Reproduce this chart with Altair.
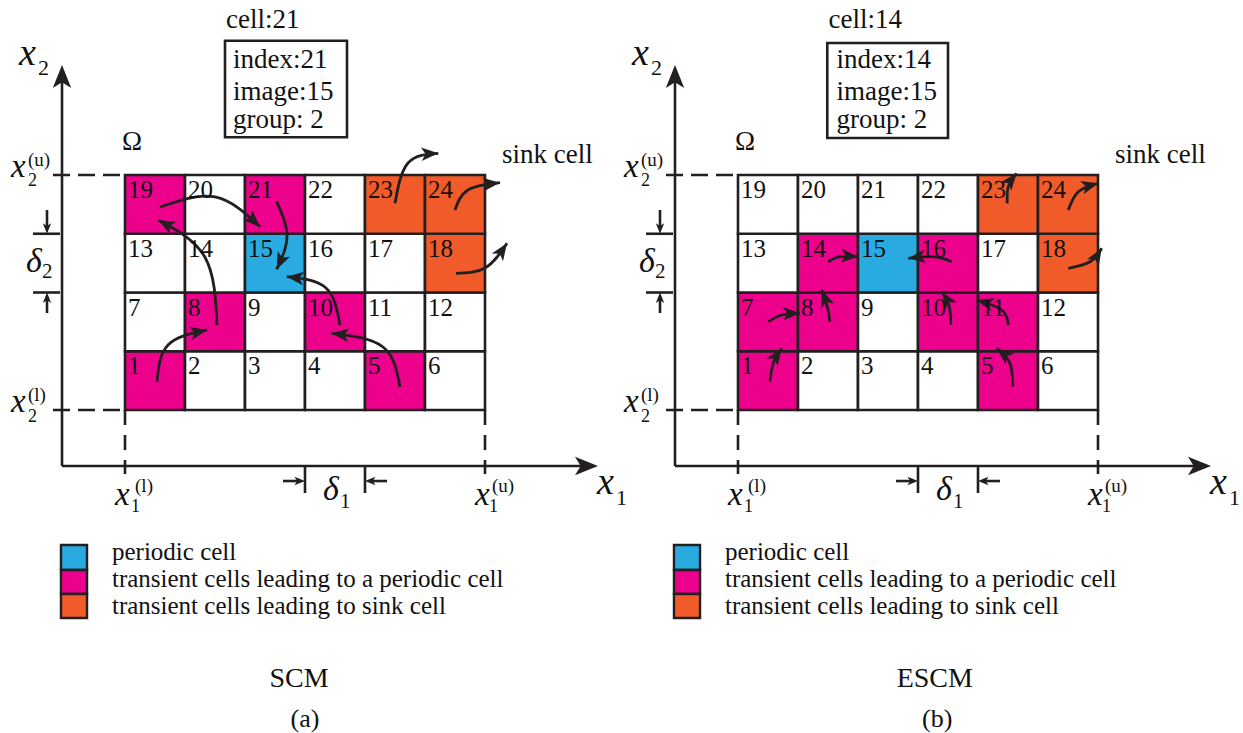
import math
import altair as alt
import pandas as pd

# ------------------------------------------------------------------ data
N_COLS = 6
N_ROWS = 4
CELL_IDS = list(range(1, N_COLS * N_ROWS + 1))

PERIODIC_A = [15]
TO_PERIODIC_A = [1, 5, 8, 10, 19, 21]
TO_SINK_A = [18, 23, 24]

PERIODIC_B = [15]
TO_PERIODIC_B = [1, 5, 7, 8, 10, 11, 14, 16]
TO_SINK_B = [18, 23, 24]

INFO_A = ["cell:21", "index:21", "image:15", "group: 2"]
INFO_B = ["cell:14", "index:14", "image:15", "group: 2"]
CAPTIONS_A = ["SCM", "(a)"]
CAPTIONS_B = ["ESCM", "(b)"]

LEGEND_KINDS = ["periodic", "to_periodic", "to_sink"]
LEGEND_LABELS = [
    "periodic cell",
    "transient cells leading to a periodic cell",
    "transient cells leading to sink cell",
]

# cell-to-image arrows, in grid units (start, middle, tip)
ARROWS_A = [
    [(0.533, 0.477), (0.717, 1.106), (1.367, 1.362)],
    [(1.533, 1.447), (1.333, 2.600), (0.555, 3.234)],
    [(0.583, 3.455), (1.500, 3.626), (2.250, 3.119)],
    [(2.528, 3.546), (2.700, 2.962), (2.528, 2.395)],
    [(3.583, 1.447), (3.350, 2.077), (2.695, 2.269)],
    [(4.583, 0.392), (4.300, 1.072), (3.445, 1.305)],
    [(4.500, 3.520), (4.717, 4.204), (5.222, 4.369)],
    [(5.500, 3.404), (5.717, 3.745), (6.250, 3.869)],
    [(5.517, 2.327), (6.000, 2.417), (6.367, 2.837)],
]
ARROWS_B = [
    [(0.533, 0.482), (0.588, 0.795), (0.728, 1.050)],
    [(0.505, 1.503), (0.728, 1.617), (1.033, 1.646)],
    [(1.533, 1.503), (1.488, 1.758), (1.395, 2.043)],
    [(1.505, 2.524), (1.700, 2.609), (2.005, 2.609)],
    [(3.562, 2.524), (3.255, 2.609), (2.838, 2.582)],
    [(3.545, 1.447), (3.522, 1.758), (3.395, 2.014)],
    [(4.505, 1.447), (4.395, 1.702), (3.978, 1.872)],
    [(4.578, 0.397), (4.533, 0.795), (4.312, 1.050)],
    [(4.488, 3.517), (4.505, 3.801), (4.645, 4.028)],
    [(5.505, 3.404), (5.672, 3.716), (6.005, 3.858)],
    [(5.505, 2.412), (5.867, 2.524), (6.062, 2.752)],
]

# info box outline (u0, u1, v0, v1) and its text anchors
BOX_A = (1.667, 3.700, 4.642, 6.286)
BOX_B = (1.488, 3.500, 4.630, 6.247)
INFO_TITLE_U = {"a": 1.683, "b": 1.508}
INFO_TEXT_U = {"a": 1.800, "b": 1.642}
INFO_V = [6.502, 5.821, 5.277, 4.800]

COLORS = {"periodic": "#29ABE2", "to_periodic": "#EC008C",
          "to_sink": "#F15A29", "none": "#FFFFFF"}
INK = "#231F20"
FONT = "Liberation Serif"
ARROW_PATH = "M0,0L0.8,2L0,1.5L-0.8,2Z"

# ------------------------------------------------------------------ scales
PANEL_W, PANEL_H = 613, 733
X_DOMAIN = [-125 / 60, (PANEL_W - 125) / 60]
Y_DOMAIN = [(410 - PANEL_H) / 58.75, 410 / 58.75]
PX_U = PANEL_W / (X_DOMAIN[1] - X_DOMAIN[0])
PX_V = PANEL_H / (Y_DOMAIN[1] - Y_DOMAIN[0])

XS = alt.Scale(domain=X_DOMAIN, nice=False, zero=False)
YS = alt.Scale(domain=Y_DOMAIN, nice=False, zero=False)


def X(f):
    return alt.X(f, type="quantitative", scale=XS, axis=None)


def Y(f):
    return alt.Y(f, type="quantitative", scale=YS, axis=None)


def X2(f):
    return alt.X2(f)


def heading(du, dv):
    return math.degrees(math.atan2(du * PX_U, dv * PX_V)) % 360


def text_layer(df, align="left", italic=False):
    kw = dict(align=align, baseline="alphabetic", font=FONT, color="#111111")
    if italic:
        kw["fontStyle"] = "italic"
    return alt.Chart(df).mark_text(**kw).encode(
        x=X("u"), y=Y("v"), text="t:N", size=alt.Size("fs:Q", scale=None))


def panel(key, periodic, to_periodic, to_sink, info, box, captions, arrows):
    # cells
    rows = []
    for n in CELL_IDS:
        c, r = (n - 1) % N_COLS, (n - 1) // N_COLS
        kind = ("periodic" if n in periodic else "to_periodic" if n in to_periodic
                else "to_sink" if n in to_sink else "none")
        rows.append(dict(n=str(n), u0=c, u1=c + 1, v0=r, v1=r + 1, fill=COLORS[kind]))
    cells = pd.DataFrame(rows)

    cell_rects = alt.Chart(cells).mark_rect(stroke=INK, strokeWidth=2.6).encode(
        x=X("u0"), x2=X2("u1"), y=Y("v0"), y2=alt.Y2("v1"),
        fill=alt.Fill("fill:N", scale=None))
    cell_nums = alt.Chart(cells).mark_text(
        align="left", baseline="alphabetic", dx=3, dy=23, font=FONT,
        fontSize=25, color="#111111").encode(x=X("u0"), y=Y("v1"), text="n:N")

    # info box
    boxdf = pd.DataFrame([dict(u0=box[0], u1=box[1], v0=box[2], v1=box[3])])
    box_rect = alt.Chart(boxdf).mark_rect(fill="#FFFFFF", stroke=INK, strokeWidth=2.6).encode(
        x=X("u0"), x2=X2("u1"), y=Y("v0"), y2=alt.Y2("v1"))

    # legend swatches
    sw_v = [-2.298, -2.723, -3.132, -3.540]
    legdf = pd.DataFrame([dict(u0=-1.067, u1=-0.633, v0=sw_v[i + 1], v1=sw_v[i],
                               fill=COLORS[k]) for i, k in enumerate(LEGEND_KINDS)])
    leg_rects = alt.Chart(legdf).mark_rect(stroke=INK, strokeWidth=2.4).encode(
        x=X("u0"), x2=X2("u1"), y=Y("v0"), y2=alt.Y2("v1"),
        fill=alt.Fill("fill:N", scale=None))

    # solid lines: axes, delta ticks, delta shafts
    solid = pd.DataFrame([
        dict(u0=-1.05, u1=-1.05, v0=-0.953, v1=5.60),
        dict(u0=-1.05, u1=7.62, v0=-0.953, v1=-0.953),
        dict(u0=-1.533, u1=-1.083, v0=3.0, v1=3.0),
        dict(u0=-1.533, u1=-1.083, v0=2.0, v1=2.0),
        dict(u0=-1.30, u1=-1.30, v0=3.404, v1=3.10),
        dict(u0=-1.30, u1=-1.30, v0=1.651, v1=1.90),
        dict(u0=3.0, u1=3.0, v0=-0.953, v1=-1.413),
        dict(u0=4.0, u1=4.0, v0=-0.953, v1=-1.413),
        dict(u0=2.633, u1=2.92, v0=-1.209, v1=-1.209),
        dict(u0=4.367, u1=4.08, v0=-1.209, v1=-1.209),
    ])
    solid_rules = alt.Chart(solid).mark_rule(color=INK, strokeWidth=2.6).encode(
        x=X("u0"), x2=X2("u1"), y=Y("v0"), y2=alt.Y2("v1"))

    dashed_h = pd.DataFrame([
        dict(u0=-1.2, u1=0.0, v0=4.0, v1=4.0),
        dict(u0=-1.2, u1=0.0, v0=0.0, v1=0.0),
    ])
    dashed_v = pd.DataFrame([
        dict(u0=0.0, u1=0.0, v0=0.0, v1=-1.089),
        dict(u0=6.0, u1=6.0, v0=0.0, v1=-1.089),
    ])
    dash_h = alt.Chart(dashed_h).mark_rule(color=INK, strokeWidth=2.6, strokeDash=[17, 8]).encode(
        x=X("u0"), x2=X2("u1"), y=Y("v0"), y2=alt.Y2("v1"))
    dash_v = alt.Chart(dashed_v).mark_rule(color=INK, strokeWidth=2.6, strokeDash=[15, 10]).encode(
        x=X("u0"), x2=X2("u1"), y=Y("v0"), y2=alt.Y2("v1"))

    # curved arrows
    pts, heads = [], []
    for i, arr in enumerate(arrows):
        for k, (u, v) in enumerate(arr):
            pts.append(dict(id=i, k=k, u=u, v=v))
        p0, p1, p2 = arr
        du = 1.25 * p2[0] - 1.5 * p1[0] + 0.25 * p0[0]
        dv = 1.25 * p2[1] - 1.5 * p1[1] + 0.25 * p0[1]
        heads.append(dict(u=p2[0], v=p2[1], ang=heading(du, dv), sz=289))
    # straight arrow heads (axes and deltas)
    heads += [
        dict(u=-1.05, v=5.872, ang=0, sz=529),
        dict(u=7.883, v=-0.953, ang=90, sz=529),
        dict(u=-1.30, v=3.0, ang=180, sz=110),
        dict(u=-1.30, v=2.0, ang=0, sz=110),
        dict(u=3.0, v=-1.209, ang=90, sz=110),
        dict(u=4.0, v=-1.209, ang=270, sz=110),
    ]
    curves = alt.Chart(pd.DataFrame(pts)).mark_line(
        interpolate="natural", color=INK, strokeWidth=2.8, strokeCap="butt").encode(
        x=X("u"), y=Y("v"), detail="id:N", order="k:Q")
    head_pts = alt.Chart(pd.DataFrame(heads)).mark_point(
        shape=ARROW_PATH, filled=True, color=INK, opacity=1, strokeWidth=0).encode(
        x=X("u"), y=Y("v"), angle=alt.Angle("ang:Q", scale=None),
        size=alt.Size("sz:Q", scale=None))

    # texts
    reg = [
        dict(u=-1.45, v=5.702, t="2", fs=22),
        dict(u=-1.617, v=4.153, t="(u)", fs=19),
        dict(u=-1.617, v=3.813, t="2", fs=18),
        dict(u=-1.617, v=0.153, t="(l)", fs=19),
        dict(u=-1.617, v=-0.204, t="2", fs=18),
        dict(u=-1.383, v=2.247, t="2", fs=21),
        dict(u=0.167, v=-1.396, t="(l)", fs=19),
        dict(u=0.100, v=-1.736, t="1", fs=18),
        dict(u=6.117, v=-1.396, t="(u)", fs=19),
        dict(u=6.067, v=-1.736, t="1", fs=18),
        dict(u=3.583, v=-1.668, t="1", fs=21),
        dict(u=8.183, v=-1.617, t="1", fs=22),
        dict(u=-0.05, v=4.426, t="Ω", fs=27),
        dict(u=6.283, v=4.204, t="sink cell", fs=27),
        dict(u=INFO_TITLE_U[key], v=INFO_V[0], t=info[0], fs=27),
    ]
    for j in range(1, 4):
        reg.append(dict(u=INFO_TEXT_U[key], v=INFO_V[j], t=info[j], fs=27))
    for j, lab in enumerate(LEGEND_LABELS):
        reg.append(dict(u=-0.217, v=[-2.553, -3.013, -3.464][j], t=lab, fs=25))
    ital = [
        dict(u=-1.767, v=5.872, t="x", fs=38),
        dict(u=-1.90, v=3.966, t="x", fs=33),
        dict(u=-1.90, v=-0.034, t="x", fs=33),
        dict(u=-1.65, v=2.349, t="δ", fs=34),
        dict(u=-0.167, v=-1.617, t="x", fs=33),
        dict(u=5.833, v=-1.617, t="x", fs=33),
        dict(u=3.30, v=-1.532, t="δ", fs=34),
        dict(u=7.867, v=-1.43, t="x", fs=38),
    ]
    cen = [
        dict(u=2.90 if key == "a" else 3.28, v=-4.715, t=captions[0], fs=28),
        dict(u=3.00 if key == "a" else 3.32, v=-5.396, t=captions[1], fs=26),
    ]

    return alt.layer(
        cell_rects, box_rect, leg_rects, dash_h, dash_v, solid_rules,
        curves, head_pts, cell_nums,
        text_layer(pd.DataFrame(reg)),
        text_layer(pd.DataFrame(ital), italic=True),
        text_layer(pd.DataFrame(cen), align="center"),
    ).properties(width=PANEL_W, height=PANEL_H)


left = panel("a", PERIODIC_A, TO_PERIODIC_A, TO_SINK_A, INFO_A, BOX_A, CAPTIONS_A, ARROWS_A)
right = panel("b", PERIODIC_B, TO_PERIODIC_B, TO_SINK_B, INFO_B, BOX_B, CAPTIONS_B, ARROWS_B)

chart = alt.hconcat(left, right, spacing=0, bounds="flush").properties(
    padding=0, background="#FFFFFF"
).configure_text(font=FONT).configure_view(stroke=None, strokeWidth=0)

chart.save("out.html", embed_options={"renderer": "svg", "actions": False})
